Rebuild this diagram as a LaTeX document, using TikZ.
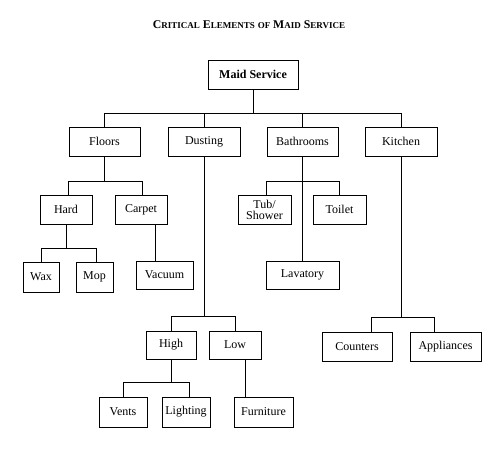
\documentclass[tikz,border=0pt]{standalone}
\usepackage{fontspec}
\setmainfont{Liberation Serif}
\usepackage{tikz}
\usetikzlibrary{positioning}
% maiuscoletto finto per il titolo
\newcommand{\piccolo}[1]{{\fontsize{9}{10}\selectfont #1}}
\tikzset{
	% casella dell'albero
	casella/.style={draw, line width=0.8pt, rectangle, minimum height=29pt, inner sep=1pt,
	                align=center, font=\fontsize{12}{12}\selectfont},
	% ramo di collegamento
	ramo/.style={line width=0.8pt},
}

\begin{document}
\begin{tikzpicture}[x=1pt, y=-1pt]
    \useasboundingbox (0,0) rectangle (503,463);
    % ---------------- titolo ----------------
    \node[font=\fontsize{11.8}{13}\selectfont\bfseries] (titolo) at (249,25)
        {C\piccolo{RITICAL} E\piccolo{LEMENTS} \piccolo{OF} M\piccolo{AID} S\piccolo{ERVICE}};

    % ---------------- radice ----------------
    \node[casella, minimum width=90pt, font=\fontsize{12}{12}\selectfont\bfseries] (maid) at (253,74.5) {Maid Service};

    % ---------------- livello 1 ----------------
    \node[casella, minimum width=71pt] (floors) at (104.5,141.5) {Floors};
    \node[casella, minimum width=72pt] (dusting) at (204,141.5) {Dusting};
    \node[casella, minimum width=71pt] (bathrooms) at (302.5,141.5) {Bathrooms};
    \node[casella, minimum width=72pt] (kitchen) at (401,141.5) {Kitchen};

    % ---------------- livello 2 ----------------
    \node[casella, minimum width=52pt] (hard) at (66,209.5) {Hard};
    \node[casella, minimum width=52pt] (carpet) at (141,209.5) {Carpet};
    \node[casella, minimum width=53pt, font=\fontsize{12}{11}\selectfont] (tub) at (264.5,209.5) {Tub/\\Shower};
    \node[casella, minimum width=53pt] (toilet) at (339.5,209.5) {Toilet};

    % ---------------- livello 3 ----------------
    \node[casella, minimum width=36pt, minimum height=30pt] (wax) at (41,277) {Wax};
    \node[casella, minimum width=37pt, minimum height=30pt] (mop) at (94.5,277) {Mop};
    \node[casella, minimum width=57pt, minimum height=28pt] (vacuum) at (164.5,275) {Vacuum};
    \node[casella, minimum width=73pt, minimum height=28pt] (lavatory) at (302.5,275) {Lavatory};

    % ---------------- livello 4 ----------------
    \node[casella, minimum width=50pt, minimum height=28pt] (high) at (171,345) {High};
    \node[casella, minimum width=52pt, minimum height=28pt] (low) at (235,345) {Low};
    \node[casella, minimum width=70pt] (counters) at (357,346.5) {Counters};
    \node[casella, minimum width=71pt] (appliances) at (445.5,346.5) {Appliances};

    % ---------------- livello 5 ----------------
    \node[casella, minimum width=48pt, minimum height=30pt] (vents) at (123,412) {Vents};
    \node[casella, minimum width=48pt, minimum height=30pt] (lighting) at (186,412) {Lighting};
    \node[casella, minimum width=59pt, minimum height=30pt] (furniture) at (263.5,412) {Furniture};

    % ---------------- rami ----------------
    \draw[ramo] (maid.south) -- ++(0,23.5) -| (floors.north);
    \draw[ramo] (maid.south) -- ++(0,23.5) -| (dusting.north);
    \draw[ramo] (maid.south) -- ++(0,23.5) -| (bathrooms.north);
    \draw[ramo] (maid.south) -- ++(0,23.5) -| (kitchen.north);

    \draw[ramo] (floors.south) -- ++(0,25) -| ([xshift=2pt]hard.north);
    \draw[ramo] (floors.south) -- ++(0,25) -| ([xshift=1pt]carpet.north);
    \draw[ramo] (hard.south) -- ++(0,23.5) -| (wax.north);
    \draw[ramo] (hard.south) -- ++(0,23.5) -| ([xshift=1.5pt]mop.north);
    \draw[ramo] ([xshift=14pt]carpet.south) -- ([xshift=-9.5pt]vacuum.north);

    \draw[ramo] (dusting.south) -- ++(0,160) -| (high.north);
    \draw[ramo] (dusting.south) -- ++(0,160) -| (low.north);
    \draw[ramo] (high.south) -- ++(0,23) -| (vents.north);
    \draw[ramo] (high.south) -- ++(0,23) -| ([xshift=3pt]lighting.north);
    \draw[ramo] ([xshift=10pt]low.south) -- ([xshift=-18.5pt]furniture.north);

    \draw[ramo] (bathrooms.south) -- ++(0,25) -| ([xshift=1.5pt]tub.north);
    \draw[ramo] (bathrooms.south) -- ++(0,25) -| (toilet.north);
    \draw[ramo] (bathrooms.south) -- (bathrooms.south |- lavatory.north);

    \draw[ramo] (kitchen.south) -- ++(0,161) -| ([xshift=14pt]counters.north);
    \draw[ramo] (kitchen.south) -- ++(0,161) -| ([xshift=-11.5pt]appliances.north);
\end{tikzpicture}
\end{document}
